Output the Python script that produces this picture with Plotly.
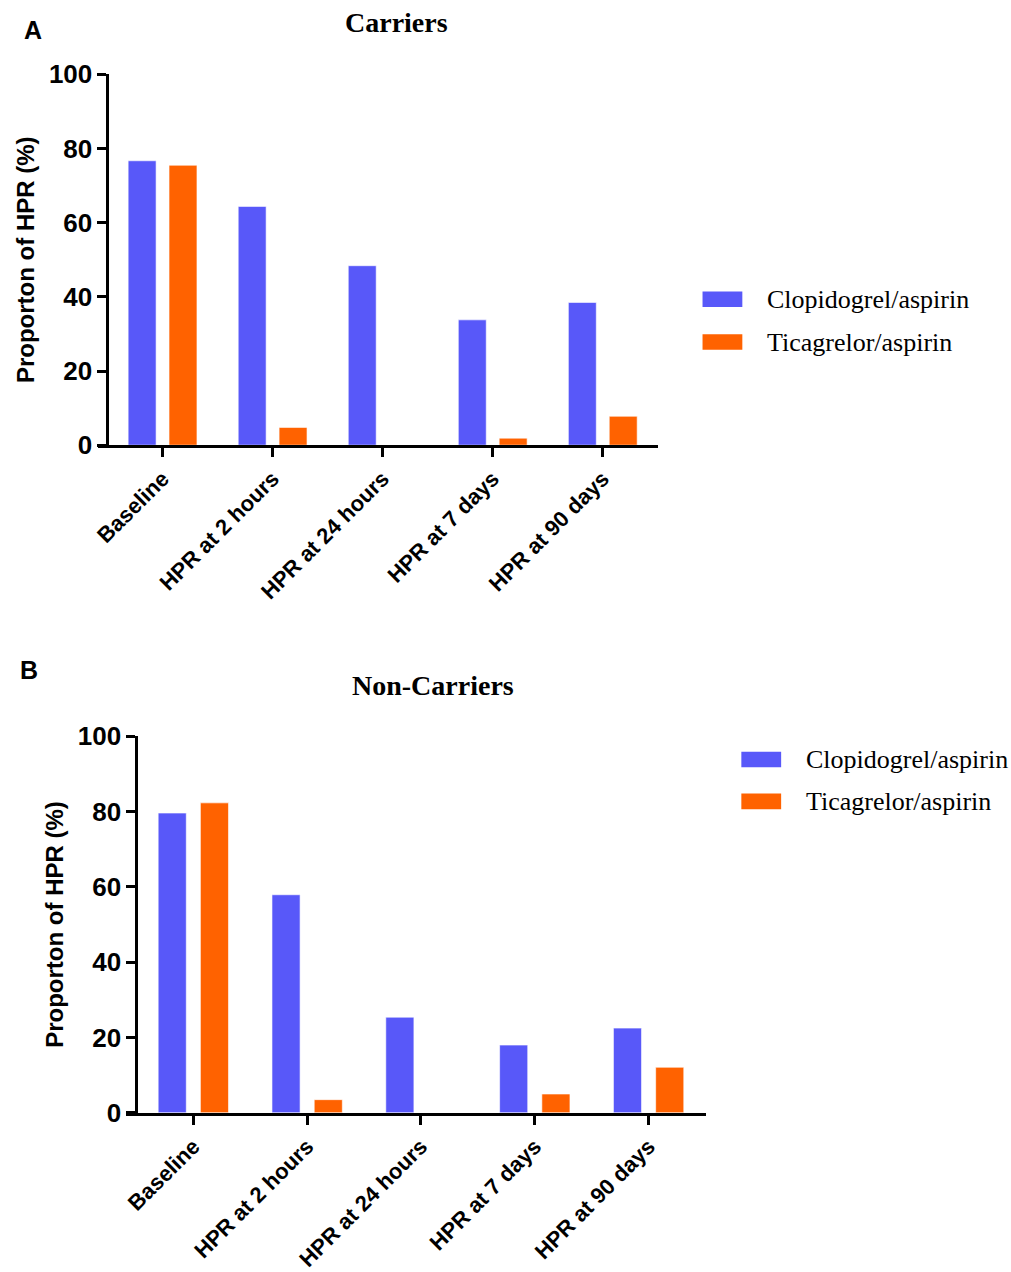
import plotly.graph_objects as go

categories = ["Baseline", "HPR at 2 hours", "HPR at 24 hours", "HPR at 7 days", "HPR at 90 days"]
series_names = ["Clopidogrel/aspirin", "Ticagrelor/aspirin"]

carriers_clopidogrel = [76.7, 64.4, 48.4, 33.8, 38.5]
carriers_ticagrelor = [75.5, 4.8, 0, 1.9, 7.8]

noncarriers_clopidogrel = [79.6, 57.9, 25.4, 18.0, 22.5]
noncarriers_ticagrelor = [82.3, 3.5, 0, 5.0, 12.1]

y_ticks = [0, 20, 40, 60, 80, 100]
panel_titles = ["Carriers", "Non-Carriers"]
panel_letters = ["A", "B"]
y_title = "Proporton of HPR (%)"

BLUE = "#5858F9"
ORANGE = "#FF6200"
W, H = 1011, 1272
SANS = "Arial, Liberation Sans, sans-serif"
SERIF = "Times New Roman, Liberation Serif, serif"

def px(x):
    return x / W

def py(y):
    return 1 - y / H

fig = go.Figure()

panels = [
    dict(clop=carriers_clopidogrel, tic=carriers_ticagrelor, xa="x", ya="y",
         xl=93, yx=103, xr=656, y0=442, y100=61, spacing=110.4,
         off=(-0.3125, 0.059), w=0.254,
         title=(393, 8), letter=(28, 15), legend=(701, 292, 336)),
    dict(clop=noncarriers_clopidogrel, tic=noncarriers_ticagrelor, xa="x2", ya="y2",
         xl=122, yx=132, xr=704, y0=1128, y100=741, spacing=113.6,
         off=(-0.309, 0.062), w=0.247,
         title=(430, 689), letter=(24, 673), legend=(740, 765, 808)),
]

layout = dict(
    width=W, height=H, margin=dict(l=0, r=0, t=0, b=0),
    paper_bgcolor="white", plot_bgcolor="white",
    barmode="overlay", showlegend=False,
)
annotations = []
shapes = []

for i, p in enumerate(panels):
    for vals, color, off in [(p["clop"], BLUE, p["off"][0]), (p["tic"], ORANGE, p["off"][1])]:
        fig.add_trace(go.Bar(
            x=categories, y=vals, xaxis=p["xa"], yaxis=p["ya"],
            marker=dict(color=color, line=dict(color="rgba(255,255,255,0.6)", width=1)),
            width=p["w"], offset=off, showlegend=False, hoverinfo="x+y",
        ))
    sfx = "" if i == 0 else "2"
    left_range = -0.5 - (p["yx"] - p["xl"]) / p["spacing"]
    layout["xaxis" + sfx] = dict(
        domain=[px(p["xl"]), px(p["xr"])], anchor="y" + sfx,
        range=[left_range, 4.5], type="category",
        showline=True, linecolor="black", linewidth=3,
        ticks="outside", ticklen=9, tickwidth=3, tickcolor="black",
        tickangle=-45, showgrid=False, zeroline=False,
        tickfont=dict(family=SANS, size=22, color="black", weight="bold"),
    )
    layout["yaxis" + sfx] = dict(
        domain=[py(p["y0"]), py(p["y100"])], anchor="free", position=px(p["yx"]),
        range=[0, 100], tickvals=y_ticks,
        showline=True, linecolor="black", linewidth=3,
        ticks="outside", ticklen=9, tickwidth=3, tickcolor="black",
        showgrid=False, zeroline=False,
        tickfont=dict(family=SANS, size=26, color="black", weight="bold"),
        title=dict(text=y_title, font=dict(family=SANS, size=24, color="black", weight="bold"), standoff=6),
    )
    tx, ty = p["title"]
    annotations.append(dict(text=panel_titles[i], x=px(tx), y=py(ty), xref="paper", yref="paper",
                            xanchor="center", yanchor="middle", showarrow=False,
                            font=dict(family=SERIF, size=28, color="black", weight="bold")))
    lx, ly = p["letter"]
    annotations.append(dict(text=panel_letters[i], x=px(lx), y=py(ly), xref="paper", yref="paper",
                            xanchor="center", yanchor="middle", showarrow=False,
                            font=dict(family=SANS, size=25, color="black", weight="bold")))
    gx, g1, g2 = p["legend"]
    for name, color, cy in [(series_names[0], BLUE, g1), (series_names[1], ORANGE, g2)]:
        shapes.append(dict(type="rect", xref="paper", yref="paper",
                           x0=px(gx), x1=px(gx + 40), y0=py(cy + 8), y1=py(cy - 8),
                           fillcolor=color, line=dict(width=0)))
        annotations.append(dict(text=name, x=px(gx + 63), y=py(cy), xref="paper", yref="paper",
                                xanchor="left", yanchor="middle", showarrow=False,
                                font=dict(family=SERIF, size=26, color="black")))

layout["annotations"] = annotations
layout["shapes"] = shapes
fig.update_layout(**layout)
fig.write_html("out.html", config={"displayModeBar": False},
               post_script="document.body.style.margin='0px';")
